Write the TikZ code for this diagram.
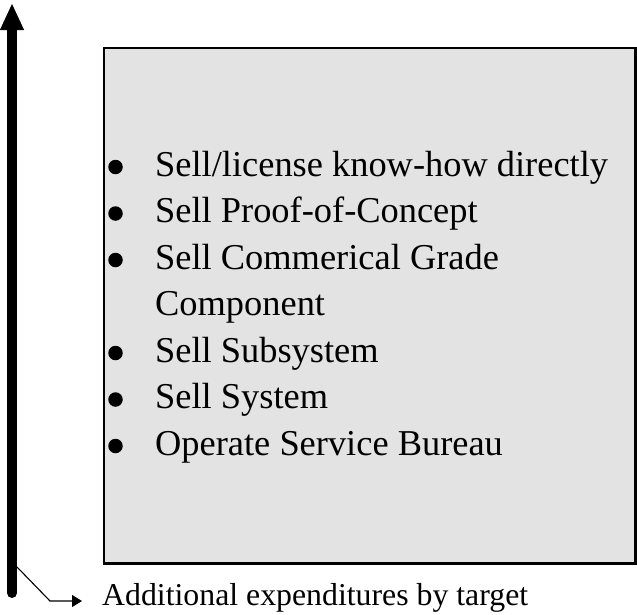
\documentclass[tikz,border=0pt]{standalone}
\usepackage{fontspec}
\setmainfont{Liberation Serif}
\usetikzlibrary{arrows.meta}
\begin{document}
\begin{tikzpicture}[x=1pt,y=-1pt,
  itemtext/.style={anchor=base west,inner sep=0pt,font=\fontsize{36.4}{44}\selectfont},
  bulletmark/.style={circle,fill=black,inner sep=0pt,minimum size=14.5pt},
  notetext/.style={anchor=base west,inner sep=0pt,font=\fontsize{31.8}{38}\selectfont},
  panel/.style={draw=black,line width=2.5pt,fill=gray!22},
  axis/.style={line width=10pt,line cap=round,-{Triangle[length=27pt,width=22pt]}},
  pointer/.style={line width=1.1pt,-{Triangle[length=10pt,width=12pt]}}]
\useasboundingbox (0,0) rectangle (637,614);

% shaded panel holding the list of options
\draw[panel] (104,48) rectangle (635.5,563.5);

% list of options, each with a round bullet
\foreach \name/\y/\txt in {a/176/{Sell/license know-how directly},
                            b/222.5/{Sell Proof-of-Concept},
                            c/269/{Sell Commerical Grade},
                            e/362/{Sell Subsystem},
                            f/408.5/{Sell System},
                            g/455/{Operate Service Bureau}}{
  \node[bulletmark] (bul\name) at (115.5,\y-9) {};
  \node[itemtext] (item\name) at (155,\y) {\txt};
}
\node[itemtext] (itemd) at (155,315.5) {Component};

% vertical axis with arrow head
\coordinate (axisbottom) at (12,593);
\coordinate (axistop) at (12,3);
\draw[axis] (axisbottom) -- (axistop);

% bent pointer to the axis caption
\coordinate (elbowstart) at (17,567);
\coordinate (bend) at (50,601);
\coordinate (tipend) at (82,601);
\draw[pointer] (elbowstart) -- (bend) -- (tipend);
\node[notetext] (caption) at (102,605) {Additional expenditures by target};
\end{tikzpicture}
\end{document}
